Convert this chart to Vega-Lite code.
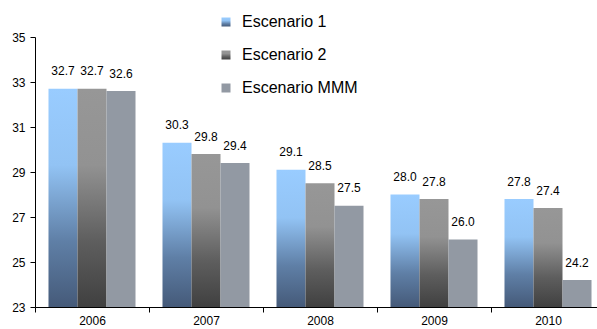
{
  "$schema": "https://vega.github.io/schema/vega-lite/v6.json",
  "width": 562,
  "height": 270,
  "autosize": {"type": "none"},
  "padding": {"left": 35, "top": 37, "right": 0, "bottom": 22},
  "background": "white",
  "config": {"view": {"stroke": null}, "font": "Liberation Sans"},
  "data": {
    "values": [
      {"year": "2006", "serie": "Escenario 1", "value": 32.7},
      {"year": "2006", "serie": "Escenario 2", "value": 32.7},
      {"year": "2006", "serie": "Escenario MMM", "value": 32.6},
      {"year": "2007", "serie": "Escenario 1", "value": 30.3},
      {"year": "2007", "serie": "Escenario 2", "value": 29.8},
      {"year": "2007", "serie": "Escenario MMM", "value": 29.4},
      {"year": "2008", "serie": "Escenario 1", "value": 29.1},
      {"year": "2008", "serie": "Escenario 2", "value": 28.5},
      {"year": "2008", "serie": "Escenario MMM", "value": 27.5},
      {"year": "2009", "serie": "Escenario 1", "value": 28.0},
      {"year": "2009", "serie": "Escenario 2", "value": 27.8},
      {"year": "2009", "serie": "Escenario MMM", "value": 26.0},
      {"year": "2010", "serie": "Escenario 1", "value": 27.8},
      {"year": "2010", "serie": "Escenario 2", "value": 27.4},
      {"year": "2010", "serie": "Escenario MMM", "value": 24.2}
    ]
  },
  "encoding": {
    "x": {
      "field": "year",
      "type": "nominal",
      "scale": {"paddingInner": 0, "paddingOuter": 0, "range": [0, 570]},
      "axis": {
        "title": null,
        "labelAngle": 0,
        "labelFontSize": 12,
        "labelColor": "#000000",
        "labelPadding": 3,
        "tickBand": "extent",
        "tickSize": 5,
        "tickColor": "#000000",
        "domainColor": "#000000",
        "grid": false
      }
    },
    "xOffset": {
      "field": "serie",
      "type": "nominal",
      "sort": ["Escenario 1", "Escenario 2", "Escenario MMM"],
      "scale": {"paddingInner": 0, "paddingOuter": 0.465}
    },
    "y": {
      "field": "value",
      "type": "quantitative",
      "scale": {"domain": [23, 35], "zero": false, "nice": false},
      "axis": {
        "title": null,
        "values": [23, 25, 27, 29, 31, 33, 35],
        "labelFontSize": 12,
        "labelColor": "#000000",
        "labelPadding": 5,
        "tickSize": 5,
        "tickColor": "#000000",
        "domainColor": "#000000",
        "grid": false
      }
    }
  },
  "layer": [
    {
      "mark": {"type": "bar"},
      "encoding": {
        "y2": {"datum": 23},
        "color": {
          "field": "serie",
          "type": "nominal",
          "sort": ["Escenario 1", "Escenario 2", "Escenario MMM"],
          "scale": {
            "domain": ["Escenario 1", "Escenario 2", "Escenario MMM"],
            "range": [
              {"expr": "{gradient: 'linear', x1: 0, y1: 0, x2: 0, y2: 1, stops: [{offset: 0, color: '#99ccff'}, {offset: 0.35, color: '#92c3f4'}, {offset: 0.7, color: '#5f7fa6'}, {offset: 1, color: '#455a79'}]}"},
              {"expr": "{gradient: 'linear', x1: 0, y1: 0, x2: 0, y2: 1, stops: [{offset: 0, color: '#979797'}, {offset: 0.35, color: '#929292'}, {offset: 0.7, color: '#5e5e5e'}, {offset: 1, color: '#404040'}]}"},
              "#9299a3"
            ]
          },
          "legend": {
            "title": null,
            "orient": "none",
            "legendX": 183,
            "legendY": -23,
            "padding": 0,
            "symbolType": "square",
            "symbolSize": 81,
            "symbolStrokeWidth": 0,
            "labelFontSize": 16,
            "labelColor": "#000000",
            "labelOffset": 8,
            "rowPadding": 17
          }
        }
      }
    },
    {
      "mark": {"type": "text", "baseline": "alphabetic", "dy": -13.5, "fontSize": 12, "color": "#000000"},
      "encoding": {
        "text": {"field": "value", "type": "quantitative", "format": ".1f"}
      }
    }
  ]
}
